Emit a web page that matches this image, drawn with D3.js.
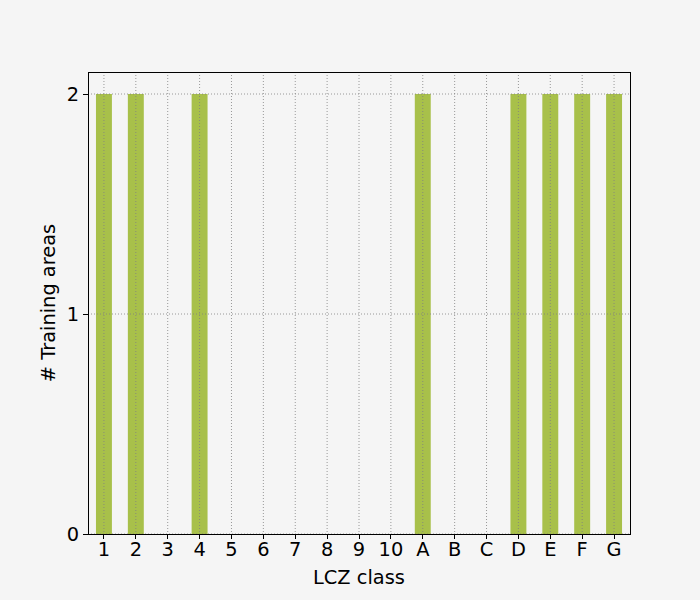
<!DOCTYPE html>
<html>
<head>
<meta charset="utf-8">
<script src="https://cdn.jsdelivr.net/npm/d3@7.9.0/dist/d3.min.js"></script>
<style>
  body { margin: 0; background: #f5f5f5; }
  text { font-family: "DejaVu Sans", sans-serif; }
</style>
</head>
<body>
<svg id="chart" width="700" height="600"></svg>
<script>
// LCZ classes and number of training areas per class
const classes = ['1', '2', '3', '4', '5', '6', '7', '8', '9', '10', 'A', 'B', 'C', 'D', 'E', 'F', 'G'];
const counts = [2, 2, 0, 2, 0, 0, 0, 0, 0, 0, 2, 0, 0, 2, 2, 2, 2];
const yTicks = [0, 1, 2];

const margin = { top: 72, right: 70, bottom: 66, left: 88 };
const width = 700 - margin.left - margin.right;
const height = 600 - margin.top - margin.bottom;
const fs = 19.4;

const svg = d3.select('#chart');
svg.append('rect').attr('width', 700).attr('height', 600).attr('fill', '#f5f5f5');

const g = svg.append('g').attr('transform', `translate(${margin.left},${margin.top})`);

const x = d3.scaleBand().domain(classes).range([0, width]).padding(0);
const y = d3.scaleLinear().domain([0, 2.1]).range([height, 0]);

const barW = x.bandwidth() * 0.5;

// bars
g.selectAll('rect.bar')
  .data(classes.map((c, i) => ({ c, v: counts[i] })))
  .join('rect')
  .attr('class', 'bar')
  .attr('x', d => x(d.c) + x.bandwidth() / 2 - barW / 2)
  .attr('y', d => y(d.v))
  .attr('width', barW)
  .attr('height', d => y(0) - y(d.v))
  .attr('fill', '#a8c04a');

// grid (drawn on top of bars)
g.append('g')
  .selectAll('line')
  .data(classes)
  .join('line')
  .attr('x1', d => x(d) + x.bandwidth() / 2)
  .attr('x2', d => x(d) + x.bandwidth() / 2)
  .attr('y1', 0)
  .attr('y2', height)
  .attr('stroke', '#808080')
  .attr('stroke-width', 0.8)
  .attr('stroke-dasharray', '1,2');

g.append('g')
  .selectAll('line')
  .data(yTicks)
  .join('line')
  .attr('x1', 0)
  .attr('x2', width)
  .attr('y1', d => y(d))
  .attr('y2', d => y(d))
  .attr('stroke', '#808080')
  .attr('stroke-width', 0.8)
  .attr('stroke-dasharray', '1,2');

// axes
const xAxis = g.append('g')
  .attr('transform', `translate(0,${height})`)
  .call(d3.axisBottom(x).tickSize(5).tickPadding(3));
const yAxis = g.append('g')
  .call(d3.axisLeft(y).tickValues(yTicks).tickFormat(d3.format('d')).tickSize(5).tickPadding(4));

[xAxis, yAxis].forEach(a => {
  a.attr('font-size', null).attr('font-family', null);
  a.select('.domain').remove();
  a.selectAll('text').attr('font-size', fs).attr('fill', '#000');
  a.selectAll('line').attr('stroke', '#000').attr('stroke-width', 1).attr('shape-rendering', 'crispEdges');
});

// frame
g.append('rect')
  .attr('width', width)
  .attr('height', height)
  .attr('fill', 'none')
  .attr('stroke', '#000')
  .attr('stroke-width', 1)
  .attr('shape-rendering', 'crispEdges');

// labels
svg.append('text')
  .attr('x', margin.left + width / 2)
  .attr('y', 584)
  .attr('text-anchor', 'middle')
  .attr('font-size', fs)
  .text('LCZ class');

svg.append('text')
  .attr('transform', `translate(55,${margin.top + height / 2}) rotate(-90)`)
  .attr('text-anchor', 'middle')
  .attr('font-size', fs)
  .text('# Training areas');
</script>
</body>
</html>
